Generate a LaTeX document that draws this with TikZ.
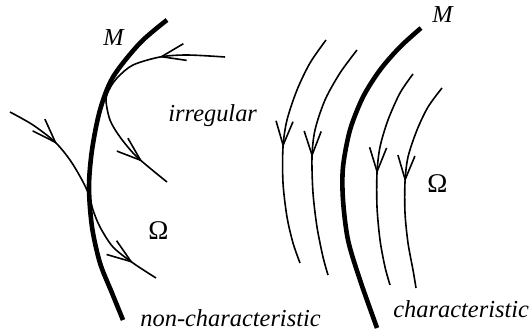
\documentclass[tikz,border=0pt]{standalone}
\usepackage{fontspec}
\setmainfont{Liberation Serif}
\usetikzlibrary{arrows.meta,decorations.markings}
\tikzset{
  >={Straight Barb[length=12pt,width=8.5pt]},
  wall/.style={line width=2.3pt},
  orbit/.style={line width=0.8pt},
  onearrow/.style={postaction={decorate},decoration={markings,
      mark=at position #1 with {\arrow{>}}}},
  twoarrows/.style 2 args={postaction={decorate},decoration={markings,
      mark=at position #1 with {\arrow{>}},mark=at position #2 with {\arrow{>}}}},
  lbl/.style={font=\fontsize{12.2}{14}\selectfont, inner sep=0pt, anchor=base west},
  omega/.style={lbl, font=\fontsize{13.5}{15}\selectfont}
}
\begin{document}
\begin{tikzpicture}[x=0.5pt,y=-0.5pt]
    \useasboundingbox (0,0) rectangle (529,335);
    \draw[wall] plot[smooth] coordinates {(167,20) (140,43) (113,77) (100,110) (92,150) (89,187) (92,227) (100,263) (112,293) (123,320)};
    \draw[orbit, twoarrows={0.27}{0.87}] plot[smooth] coordinates {(225,57) (187,55) (160,57) (133,65) (118,77) (110,88) (106,100) (110,120) (120,137) (137,157) (167,182)};
    \draw[orbit, twoarrows={0.25}{0.88}] plot[smooth] coordinates {(10,112) (33,125) (55,142) (70,160) (82,180) (89,195) (93,210) (100,227) (113,247) (133,263) (156,278)};
    \draw[wall] plot[smooth] coordinates {(421,28) (400,47) (380,70) (363,97) (350,130) (343,167) (343,200) (348,240) (360,280) (377,328)};
    \draw[orbit, onearrow=0.5] plot[smooth] coordinates {(326,40) (310,63) (297,90) (287,120) (283,147) (283,183) (287,217) (293,243) (300,263)};
    \draw[orbit, onearrow=0.5] plot[smooth] coordinates {(357,50) (340,73) (325,100) (315,130) (312,157) (313,193) (317,227) (323,257) (328,275)};
    \draw[orbit, onearrow=0.49] plot[smooth] coordinates {(413,74) (400,93) (388,120) (380,147) (377,173) (377,207) (380,240) (385,267) (390,285)};
    \draw[orbit, onearrow=0.49] plot[smooth] coordinates {(442,88) (428,107) (417,130) (408,157) (405,182) (405,213) (408,243) (413,270) (416,288)};
    \node[lbl] (mleft) at (103,46) {\textit{M}};
    \node[lbl] (mright) at (432,23) {\textit{M}};
    \node[omega] (omleft) at (148,240) {Ω};
    \node[omega] (omright) at (427,193) {Ω};
    \node[lbl] (irreg) at (168,122) {\textit{irregular}};
    \node[lbl] (noncha) at (140,327) {\textit{non-characteristic}};
    \node[lbl] (cha) at (393,318) {\textit{characteristic}};
\end{tikzpicture}
\end{document}
